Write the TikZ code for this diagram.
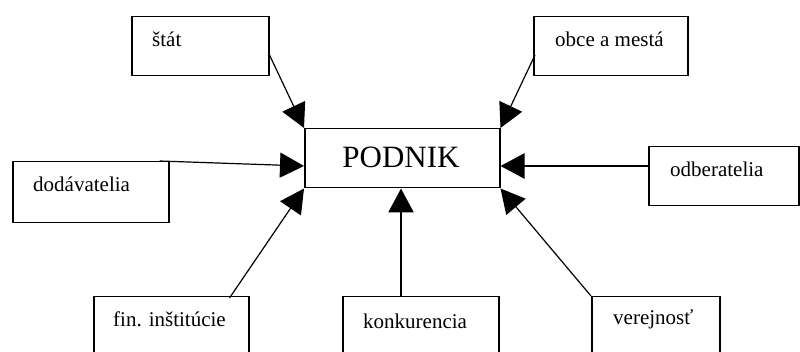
\documentclass[tikz,border=0pt]{standalone}
\usepackage{fontspec}
\setmainfont{Liberation Serif}
\usetikzlibrary{arrows.meta,calc}
\begin{document}
\begin{tikzpicture}[x=1pt,y=-1pt,
  box/.style={draw,line width=1.5pt,inner sep=0pt,anchor=north west},
  lbl/.style={inner sep=0pt,anchor=west,font=\fontsize{21}{25}\selectfont},
  thin/.style={line width=1.2pt,-{Triangle[length=24pt,width=25pt]}},
  thickarr/.style={line width=2.6pt,-{Triangle[length=24pt,width=25pt]}}]
\useasboundingbox (0,0) rectangle (800,352);
\clip (0,0) rectangle (800,352);
% central box
\node[box,minimum width=195pt,minimum height=59pt] (pod) at (304,128) {};
\node[inner sep=0pt,font=\fontsize{31}{36}\selectfont] (podT) at (401,157) {PODNIK};
% outer boxes
\node[box,minimum width=137pt,minimum height=59pt] (stat) at (131,16) {};
\node[lbl] (statT) at (152,39) {štát};
\node[box,minimum width=154pt,minimum height=59pt] (obce) at (533,16) {};
\node[lbl] (obceT) at (555,39) {obce a mestá};
\node[box,minimum width=156pt,minimum height=61pt] (dod) at (12,161) {};
\node[lbl] (dodT) at (33,184) {dodávatelia};
\node[box,minimum width=150pt,minimum height=59pt] (odb) at (648,146) {};
\node[lbl] (odbT) at (670,169) {odberatelia};
\node[box,minimum width=155pt,minimum height=70pt] (fin) at (93,296) {};
\node[lbl] (finT) at (113,319) {fin. inštitúcie};
\node[box,minimum width=156pt,minimum height=70pt] (konk) at (342,296) {};
\node[lbl] (konkT) at (363,321) {konkurencia};
\node[box,minimum width=128pt,minimum height=70pt] (ver) at (591,296) {};
\node[lbl] (verT) at (613,319) {verejnosť};
% connector endpoints
\coordinate (s1) at ($(stat.north east)+(0,39)$);
\coordinate (o1) at ($(obce.north west)+(2,39)$);
\coordinate (d1) at ($(dod.north east)+(-10,0)$);
\coordinate (d2) at ($(pod.north west)+(0,38)$);
\coordinate (b1) at ($(odb.north west)+(0,20)$);
\coordinate (b2) at ($(pod.north east)+(0,38)$);
\coordinate (f1) at ($(fin.north east)+(-20,2)$);
\coordinate (k1) at ($(konk.north west)+(59,0)$);
\coordinate (k2) at ($(pod.south west)+(97,0)$);
% connectors
\draw[thin] (s1) -- (pod.north west);
\draw[thin] (o1) -- (pod.north east);
\draw[thin] (d1) -- (d2);
\draw[thickarr] (b1) -- (b2);
\draw[thin] (f1) -- (pod.south west);
\draw[thickarr] (k1) -- (k2);
\draw[thin] (ver.north west) -- (pod.south east);
\end{tikzpicture}
\end{document}
